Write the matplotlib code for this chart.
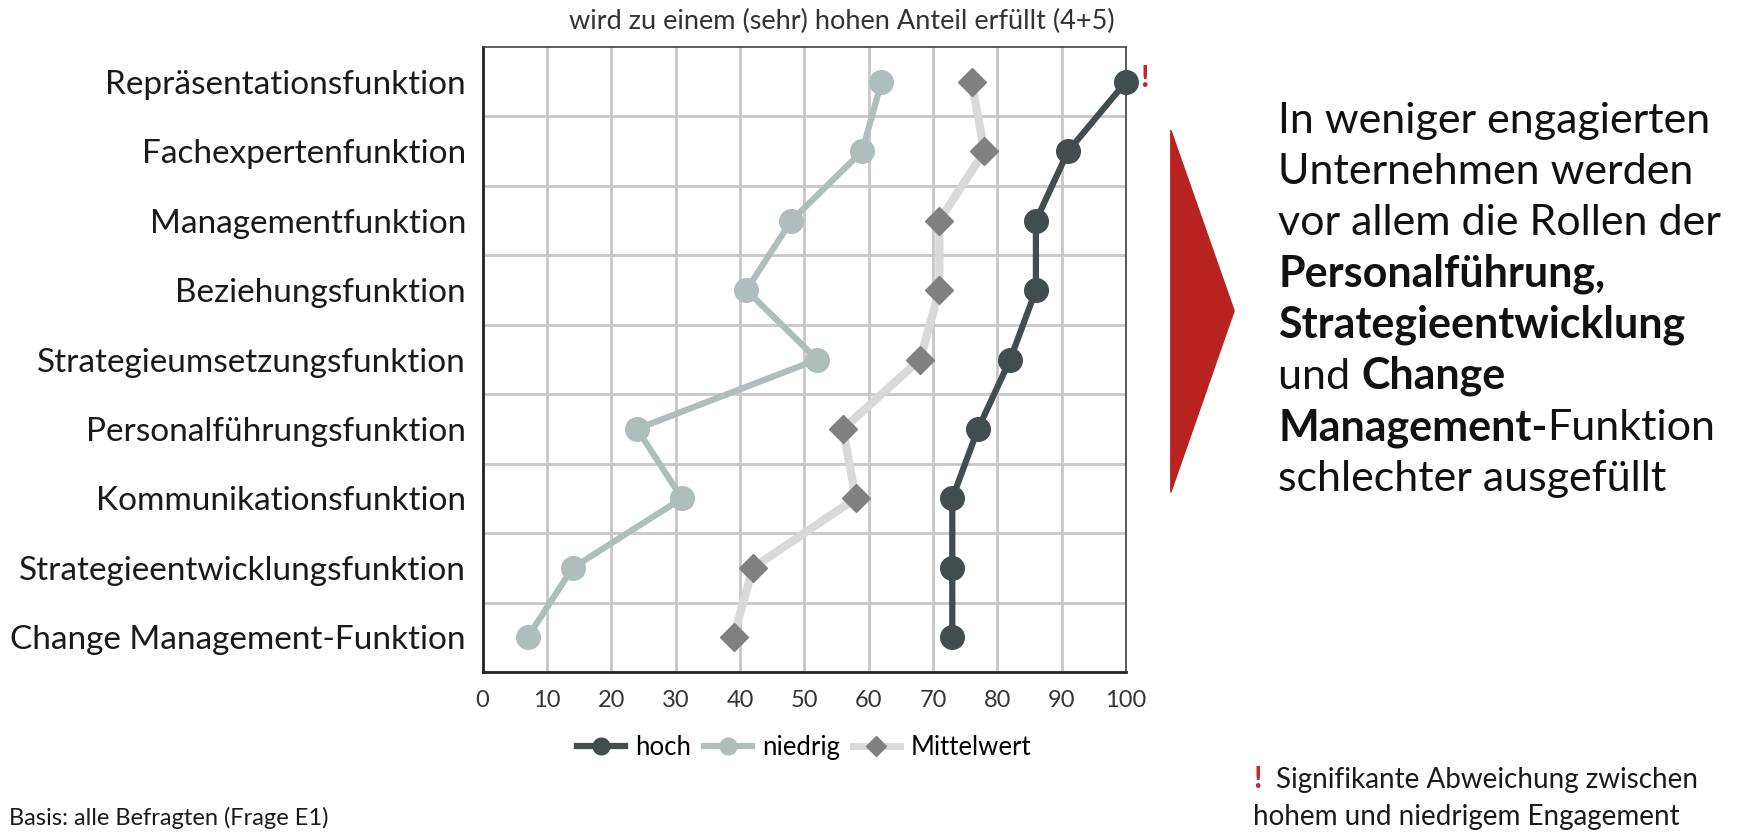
import matplotlib.pyplot as plt
from matplotlib.lines import Line2D
from matplotlib.patches import Polygon

# Daten
kategorien = [
    "Repräsentationsfunktion",
    "Fachexpertenfunktion",
    "Managementfunktion",
    "Beziehungsfunktion",
    "Strategieumsetzungsfunktion",
    "Personalführungsfunktion",
    "Kommunikationsfunktion",
    "Strategieentwicklungsfunktion",
    "Change Management-Funktion",
]
hoch = [100, 91, 86, 86, 82, 77, 73, 73, 73]
niedrig = [62, 59, 48, 41, 52, 24, 31, 14, 7]
mittelwert = [76, 78, 71, 71, 68, 56, 58, 42, 39]
x_ticks = [0, 10, 20, 30, 40, 50, 60, 70, 80, 90, 100]
legende = ["hoch", "niedrig", "Mittelwert"]

TITEL = "wird zu einem (sehr) hohen Anteil erfüllt (4+5)"
BASIS = "Basis: alle Befragten (Frage E1)"
FUSSNOTE_1 = "Signifikante Abweichung zwischen"
FUSSNOTE_2 = "hohem und niedrigem Engagement"

# Text rechts: (Textstück, Schriftgewicht)
rechts_text = [
    [("In weniger engagierten", 'normal')],
    [("Unternehmen werden", 'normal')],
    [("vor allem die Rollen der", 'normal')],
    [("Personalführung,", 'bold')],
    [("Strategieentwicklung", 'bold')],
    [("und ", 'normal'), ("Change", 'bold')],
    [("Management-", 'bold'), ("Funktion", 'normal')],
    [("schlechter ausgefüllt", 'normal')],
]

# Farben
HOCH_FARBE = "#414d4f"
NIEDRIG_FARBE = "#afbdbd"
MITTEL_LINIE = "#d9d9d9"
MITTEL_MARKER = "#808080"
ROT = "#c0282a"
GRID_FARBE = "#c8c8c8"
TEXT_FARBE = "#1a1a1a"

plt.rcParams['font.family'] = ['Lato', 'DejaVu Sans']

fig = plt.figure(figsize=(17.58, 8.4), dpi=100)
ax = fig.add_axes([0.2745, 0.2, 0.366, 0.744])

y = list(range(len(kategorien)))

ax.plot(mittelwert, y, '-', color=MITTEL_LINIE, linewidth=6, zorder=3,
        marker='D', markersize=14, markerfacecolor=MITTEL_MARKER,
        markeredgecolor=MITTEL_MARKER, solid_capstyle='round')
ax.plot(niedrig, y, '-', color=NIEDRIG_FARBE, linewidth=4.5, zorder=4,
        marker='o', markersize=17, solid_capstyle='round')
ax.plot(hoch, y, '-', color=HOCH_FARBE, linewidth=4.5, zorder=5,
        marker='o', markersize=17, solid_capstyle='round', clip_on=False)

ax.set_xlim(0, 100)
ax.set_ylim(len(kategorien) - 0.5, -0.5)
ax.set_xticks(x_ticks)
ax.set_xticklabels([str(t) for t in x_ticks], fontsize=17, color="#333333")
ax.set_yticks(y)
ax.set_yticklabels(kategorien, fontsize=24, color=TEXT_FARBE)
ax.set_yticks([i + 0.5 for i in y[:-1]], minor=True)
ax.tick_params(axis='both', which='both', length=0)
ax.tick_params(axis='x', pad=13)
ax.tick_params(axis='y', pad=12)

ax.grid(True, axis='x', which='major', color=GRID_FARBE, linewidth=2)
ax.grid(True, axis='y', which='minor', color=GRID_FARBE, linewidth=2)
ax.set_axisbelow(True)

for seite in ['left', 'bottom']:
    ax.spines[seite].set_color('#222222')
    ax.spines[seite].set_linewidth(2)
for seite in ['top', 'right']:
    ax.spines[seite].set_color('#444444')
    ax.spines[seite].set_linewidth(1.2)

# Überschrift (leicht rechts von der Achsenmitte)
fig.text(0.479, 0.974, TITEL, fontsize=19.5, color="#333333",
         ha='center', va='center')

# Signifikanz-Markierung
ax.text(hoch[0] + 2.2, 0 - 0.05, "!", color=ROT, fontsize=22, fontweight='bold',
        ha='left', va='center', clip_on=False, zorder=10)

# Legende
handles = [
    Line2D([], [], color=HOCH_FARBE, linewidth=4.5, marker='o', markersize=12),
    Line2D([], [], color=NIEDRIG_FARBE, linewidth=4.5, marker='o', markersize=12),
    Line2D([], [], color=MITTEL_LINIE, linewidth=5, marker='D', markersize=10,
           markerfacecolor=MITTEL_MARKER, markeredgecolor=MITTEL_MARKER),
]
ax.legend(handles, legende, loc='upper center',
          bbox_to_anchor=(0.5, -0.064), ncol=3, frameon=False, fontsize=18.5,
          handlelength=1.85, handletextpad=0.4, columnspacing=0.5)

# roter Pfeil
dreieck = Polygon([[0.666, 0.845], [0.702, 0.63], [0.666, 0.414]],
                  closed=True, transform=fig.transFigure, color="#b8231f")
fig.patches.append(dreieck)

# Text rechts, Stück für Stück nebeneinander
TEXT_X = 0.727
TEXT_GROESSE = 31
ERSTE_BASISLINIE = 0.842
ZEILENABSTAND = 0.061

zeilen = []
for n, stuecke in enumerate(rechts_text):
    y_pos = ERSTE_BASISLINIE - n * ZEILENABSTAND
    teile = [fig.text(TEXT_X, y_pos, text, fontsize=TEXT_GROESSE,
                      fontweight=gewicht, va='baseline', ha='left',
                      color='#111111')
             for text, gewicht in stuecke]
    zeilen.append((y_pos, teile))

fig.canvas.draw()
renderer = fig.canvas.get_renderer()
for y_pos, teile in zeilen:
    x_pos = TEXT_X
    for teil in teile:
        teil.set_position((x_pos, y_pos))
        x_pos += teil.get_window_extent(renderer).width / fig.bbox.width

# Fußnoten
fig.text(0.713, 0.062, "!", color=ROT, fontsize=22, fontweight='bold',
         ha='left', va='baseline')
fig.text(0.726, 0.062, FUSSNOTE_1, fontsize=20,
         color=TEXT_FARBE, ha='left', va='baseline')
fig.text(0.713, 0.018, FUSSNOTE_2, fontsize=20,
         color=TEXT_FARBE, ha='left', va='baseline')
fig.text(0.005, 0.018, BASIS, fontsize=17, color=TEXT_FARBE,
         ha='left', va='baseline')

fig.savefig("out.png", dpi=100)
